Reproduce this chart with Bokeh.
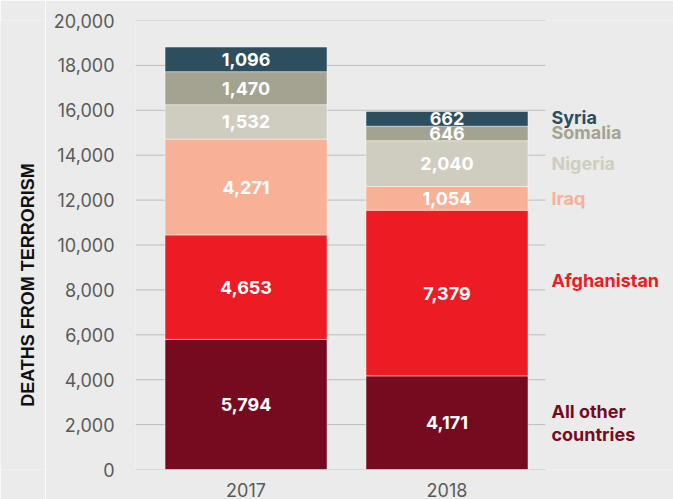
import math
from bokeh.plotting import figure
from bokeh.layouts import row
from bokeh.models import ColumnDataSource, FixedTicker, NumeralTickFormatter, Range1d
from bokeh.core.properties import value
from bokeh.embed import file_html
from bokeh.resources import INLINE

years = ["2017", "2018"]
countries = ["All other countries", "Afghanistan", "Iraq", "Nigeria", "Somalia", "Syria"]
all_other = [5794, 4171]
afghanistan = [4653, 7379]
iraq = [4271, 1054]
nigeria = [1532, 2040]
somalia = [1470, 646]
syria = [1096, 662]
legend_text = ["All other\ncountries", "Afghanistan", "Iraq", "Nigeria", "Somalia", "Syria"]
y_ticks = [0, 2000, 4000, 6000, 8000, 10000, 12000, 14000, 16000, 18000, 20000]
y_title = "DEATHS FROM TERRORISM"

colors = ["#760b20", "#ed1c24", "#f8b096", "#cfcdbf", "#a4a291", "#2c4e5f"]
series = [all_other, afghanistan, iraq, nigeria, somalia, syria]
keys = ["s%d" % i for i in range(len(series))]

xs = list(range(len(years)))
data = {"x": xs}
for k, s in zip(keys, series):
    data[k] = s
src = ColumnDataSource(data)

BG = "#ebebeb"
H = 499
TW = 45

# narrow figure holding the rotated axis title
t = figure(width=TW, height=H, output_backend="svg", toolbar_location=None,
           x_range=Range1d(0, TW), y_range=Range1d(0, H),
           x_axis_type=None, y_axis_type=None,
           min_border_left=0, min_border_right=0, min_border_top=0, min_border_bottom=0)
t.background_fill_color = BG
t.border_fill_color = BG
t.outline_line_color = None
t.xgrid.grid_line_color = None
t.ygrid.grid_line_color = None
t.text(x=[27], y=[205], text=[y_title], angle=math.pi / 2, text_color="#111111",
       text_font=value("Liberation Sans"), text_font_style="bold", text_font_size="18px",
       text_align="center", text_baseline="middle")

X0, XGRID_END, X1 = -0.55, 1.49, 2.127
p = figure(width=673 - TW, height=H, output_backend="svg", toolbar_location=None,
           x_range=Range1d(X0, X1), y_range=Range1d(0, 20000),
           min_border_left=135 - TW, min_border_right=0, min_border_top=20, min_border_bottom=29)
p.background_fill_color = BG
p.border_fill_color = BG
p.outline_line_color = None

# horizontal gridlines (ending before the label column)
p.segment(x0=[X0] * len(y_ticks), x1=[XGRID_END] * len(y_ticks), y0=y_ticks, y1=y_ticks,
          line_color="#bdbdbd", line_width=1)

p.vbar_stack(keys, x="x", width=0.806, source=src, color=colors,
             line_color="white", line_alpha=0.45, line_width=1)

# data labels
lx, ly, lt = [], [], []
for i in range(len(years)):
    base = 0
    for s in series:
        v = s[i]
        lx.append(xs[i])
        ly.append(base + v / 2)
        lt.append(f"{v:,}")
        base += v
p.text(x=lx, y=ly, text=lt, text_color="white", text_font=value("Inter"),
       text_font_style="bold", text_font_size="18px", text_align="center",
       text_baseline="middle")

# right-side labels at 2018 segment centers
rx, ry, rt, rc, roff = [], [], [], [], []
base = 0
for name, s, c in zip(legend_text, series, colors):
    v = s[-1]
    rx.append(XGRID_END)
    ry.append(base + v / 2)
    rt.append(name)
    rc.append(c)
    roff.append(-13 if name == "Afghanistan" else (-1 if name in ("Syria", "Somalia") else 0))
    base += v
p.text(x=rx, y=ry, text=rt, text_color=rc, x_offset=6, y_offset=roff,
       text_font=value("Inter"), text_font_style="bold", text_font_size="18px",
       text_align="left", text_baseline="middle", text_line_height=1.1)

# axes
p.yaxis.ticker = FixedTicker(ticks=y_ticks)
p.yaxis.formatter = NumeralTickFormatter(format="0,0")
p.yaxis.axis_line_color = None
p.yaxis.major_tick_line_color = None
p.yaxis.minor_tick_line_color = None
p.yaxis.major_label_standoff = 15
p.yaxis.major_label_text_font = "Inter"
p.yaxis.major_label_text_font_size = "18px"
p.yaxis.major_label_text_color = "#5a5a5a"

p.xaxis.ticker = FixedTicker(ticks=xs)
p.xaxis.major_label_overrides = {i: y for i, y in zip(xs, years)}
p.xaxis.axis_line_color = None
p.xaxis.major_tick_line_color = None
p.xaxis.minor_tick_line_color = None
p.xaxis.major_label_standoff = 7
p.xaxis.major_label_text_font = "Inter"
p.xaxis.major_label_text_font_size = "18px"
p.xaxis.major_label_text_color = "#5a5a5a"

p.xgrid.grid_line_color = None
p.ygrid.grid_line_color = None

layout = row(t, p, spacing=0)
open("out.html", "w").write(file_html(layout, INLINE))
